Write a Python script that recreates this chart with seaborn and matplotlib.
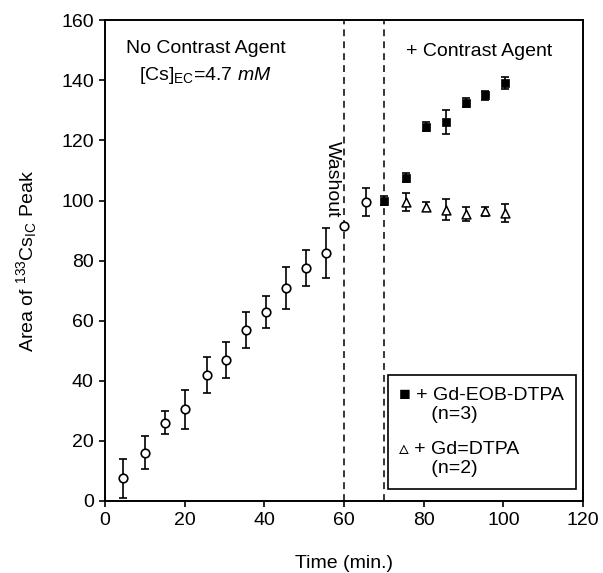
import numpy as np
import pandas as pd
import matplotlib
matplotlib.use("Agg")
import matplotlib.pyplot as plt
import seaborn as sns

sns.set_style("ticks", {"axes.edgecolor": "black", "text.color": "black",
                        "axes.labelcolor": "black", "xtick.color": "black",
                        "ytick.color": "black"})
plt.rcParams["font.family"] = ["Liberation Sans", "DejaVu Sans"]
plt.rcParams["mathtext.fontset"] = "custom"
plt.rcParams["mathtext.rm"] = "Liberation Sans"
plt.rcParams["mathtext.it"] = "Liberation Sans:italic"

# ---------------- data ----------------
circ_t = [4.5, 10, 15, 20, 25.5, 30.5, 35.5, 40.5, 45.5, 50.5, 55.5, 60, 65.5]
circ_y = [7.5, 16, 26, 30.5, 42, 47, 57, 63, 71, 77.5, 82.5, 91.5, 99.5]
circ_err = [6.5, 5.5, 3.8, 6.5, 6, 6, 6, 5.3, 7, 6, 8.3, 0, 4.8]

sq_t = [70, 75.5, 80.5, 85.5, 90.5, 95.5, 100.5]
sq_y = [100, 107.5, 124.5, 126, 132.5, 135, 139]
sq_err = [1.5, 1.5, 1.5, 4, 1.5, 1.5, 2]

tri_t = [75.5, 80.5, 85.5, 90.5, 95.5, 100.5]
tri_y = [99.5, 98, 97, 95.5, 96.5, 96]
tri_err = [3, 1.5, 3.5, 2.3, 1.5, 3]

washout_t = [60, 70]

leg_labels = ["\u25a0 + Gd-EOB-DTPA\n      (n=3)", "\u25b5 + Gd=DTPA\n      (n=2)"]

df_c = pd.DataFrame({"t": circ_t, "y": circ_y})
df_s = pd.DataFrame({"t": sq_t, "y": sq_y})
df_tr = pd.DataFrame({"t": tri_t, "y": tri_y})

fig = plt.figure(figsize=(6.03, 5.73), dpi=100)
ax = fig.add_axes([0.174, 0.1257, 0.793, 0.839])

# error bars first
for t, y, e in [(circ_t, circ_y, circ_err), (sq_t, sq_y, sq_err), (tri_t, tri_y, tri_err)]:
    ax.errorbar(t, y, yerr=e, fmt="none", ecolor="black",
                elinewidth=1.2, capsize=3.2, capthick=1.2, zorder=2)

sns.scatterplot(data=df_c, x="t", y="y", ax=ax, marker="o", s=38,
                facecolor="white", edgecolor="black", linewidth=1.2, zorder=3)
sns.scatterplot(data=df_s, x="t", y="y", ax=ax, marker="s", s=34,
                color="black", edgecolor="black", linewidth=0.5, zorder=3)
sns.scatterplot(data=df_tr, x="t", y="y", ax=ax, marker="^", s=40,
                facecolor="white", edgecolor="black", linewidth=1.1, zorder=4)

for xv in washout_t:
    ax.axvline(xv, color="black", linestyle=(0, (4.5, 3.3)), linewidth=1.1, zorder=1)

ax.set_xlim(0, 120)
ax.set_ylim(0, 160)
ax.set_xticks(np.arange(0, 121, 20))
ax.set_yticks(np.arange(0, 161, 20))
ax.tick_params(direction="out", length=4, width=1.2, labelsize=14, pad=4)
for sp in ax.spines.values():
    sp.set_linewidth(1.4)

ax.set_xlabel("Time (min.)", fontsize=14, labelpad=19)
ax.set_ylabel(r"Area of $^{133}$Cs$_{\mathrm{IC}}$ Peak", fontsize=14, labelpad=16)

ax.text(25.4, 150.7, "No Contrast Agent", fontsize=14, ha="center", va="center")
ax.text(25.1, 141.7, r"[Cs]$_{\mathrm{EC}}$=4.7 $\mathit{mM}$", fontsize=14,
        ha="center", va="center")
ax.text(93.9, 149.7, "+ Contrast Agent", fontsize=14, ha="center", va="center")
ax.text(57.2, 107, "Washout", fontsize=14, rotation=270, ha="center", va="center")

# legend: marker glyphs are part of the label text, as in the original
h_s = plt.Line2D([], [], linestyle="none")
h_t = plt.Line2D([], [], linestyle="none")
leg = ax.legend([h_s, h_t], leg_labels, loc="lower right",
                bbox_to_anchor=(0.985, 0.025), fontsize=14,
                frameon=True, fancybox=False, edgecolor="black", framealpha=1,
                handletextpad=0, handlelength=0, labelspacing=0.9,
                borderpad=0.6, borderaxespad=0)
leg.get_frame().set_linewidth(1.2)

fig.savefig("out.png", dpi=100)
